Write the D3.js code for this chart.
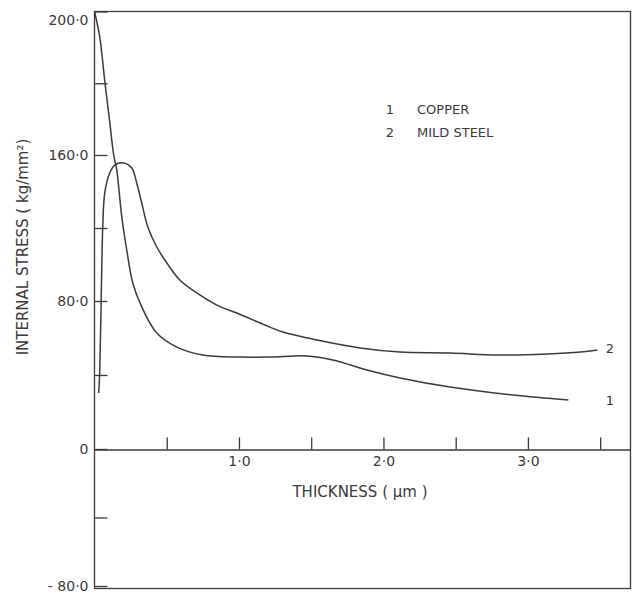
<!DOCTYPE html>
<html>
<head>
<meta charset="utf-8">
<script src="https://cdn.jsdelivr.net/npm/d3@7"></script>
<style>
  body { margin: 0; background: #fff; }
  svg { display: block; }
  text { font-family: "DejaVu Sans", sans-serif; fill: #3a3a3a; }
</style>
</head>
<body>
<svg id="chart" width="642" height="593"></svg>
<script>
// thickness (um) / internal stress (kg/mm2)
const copperX = [0, 0.036, 0.071, 0.105, 0.133, 0.154, 0.189, 0.223, 0.265, 0.327, 0.431, 0.57, 0.75, 1.006, 1.214, 1.47, 1.65, 1.886, 2.115, 2.461, 2.898, 3.28]
const copperY = [200, 193, 180.6, 169.3, 160, 151.8, 126, 108, 89.9, 76.8, 62.7, 55.1, 50.8, 49.7, 49.7, 50.3, 48.1, 42.7, 38.4, 33.5, 29.2, 26.5]

const steelX = [0.029, 0.036, 0.05, 0.057, 0.071, 0.105, 0.14, 0.202, 0.258, 0.292, 0.327, 0.369, 0.431, 0.501, 0.59, 0.708, 0.847, 0.985, 1.214, 1.304, 1.54, 1.838, 2.115, 2.461, 2.787, 3.134, 3.362, 3.48]
const steelY = [30.3, 41.1, 97, 120.5, 139.2, 150.1, 154.5, 155.6, 152.9, 144.7, 133.7, 120.5, 109.6, 100.8, 91.5, 84.4, 77.8, 73.5, 65.9, 63.2, 58.9, 54.6, 52.4, 51.9, 50.8, 51.4, 52.4, 53.5]

const yTicks = [-80, -40, 0, 40, 80, 120, 160, 180, 200]
const yLabels = { '-80': '- 80·0', '0': '0', '80': '80·0', '160': '160·0', '200': '200·0' }
const xTicks = [0.5, 1, 1.5, 2, 2.5, 3, 3.5]
const xLabels = { '1': '1·0', '2': '2·0', '3': '3·0' }

const legendItems = ['COPPER', 'MILD STEEL']

const ink = '#3a3a3a'
const frameL = 94.5, frameR = 630.5, frameT = 11.5, frameB = 588.5

const svg = d3.select('#chart')

// the printed axis is not evenly spaced at the top, so the scale is piecewise
const x = d3.scaleLinear().domain([0, 3.71]).range([frameL, frameR])
const y = d3.scaleLinear()
    .domain([-80, 0, 80, 160, 200])
    .range([586, 449, 301, 155, frameT])

// frame
svg.append('rect')
    .attr('x', frameL).attr('y', frameT)
    .attr('width', frameR - frameL).attr('height', frameB - frameT)
    .attr('fill', 'none')
    .attr('stroke', ink)
    .attr('stroke-width', 1.3)

// y axis, ticks pointing inward
const yAxis = svg.append('g')
    .attr('transform', `translate(${frameL},0)`)
    .call(d3.axisLeft(y)
        .tickValues(yTicks)
        .tickSizeInner(-13)
        .tickSizeOuter(0)
        .tickPadding(6)
        .tickFormat(d => yLabels[d] || ''))
yAxis.select('.domain').remove()
yAxis.selectAll('.tick line').attr('stroke', ink).attr('stroke-width', 1.3)
yAxis.selectAll('.tick text')
    .style('font-size', '14px')
    .attr('fill', ink)
    .attr('dy', d => d === 200 ? '0.9em' : '0.32em')

// x axis along zero
const xAxis = svg.append('g')
    .attr('transform', `translate(0,${Math.round(y(0)) + 0.5})`)
    .call(d3.axisBottom(x)
        .tickValues(xTicks)
        .tickSizeInner(-12)
        .tickSizeOuter(0)
        .tickPadding(7)
        .tickFormat(d => xLabels[d] || ''))
xAxis.select('.domain').attr('stroke', ink).attr('stroke-width', 1.3)
xAxis.selectAll('.tick line').attr('stroke', ink).attr('stroke-width', 1.3)
xAxis.selectAll('.tick text').style('font-size', '14px').attr('fill', ink)

// titles
svg.append('text')
    .attr('x', 360).attr('y', 497)
    .attr('text-anchor', 'middle')
    .style('font-size', '15px')
    .text('THICKNESS ( μm )')

svg.append('text')
    .attr('transform', 'translate(28,247) rotate(-90)')
    .attr('text-anchor', 'middle')
    .style('font-size', '15px')
    .text('INTERNAL STRESS ( kg/mm²)')

// curves
const line = d3.line()
    .x(d => x(d[0]))
    .y(d => y(d[1]))
    .curve(d3.curveCatmullRom.alpha(0.5))

const series = [
    { id: '1', pts: d3.zip(copperX, copperY) },
    { id: '2', pts: d3.zip(steelX, steelY) }
]

svg.selectAll('path.curve')
    .data(series)
    .join('path')
    .attr('class', 'curve')
    .attr('d', d => line(d.pts))
    .attr('fill', 'none')
    .attr('stroke', ink)
    .attr('stroke-width', 1.5)

// curve end numbers
svg.selectAll('text.endlabel')
    .data(series)
    .join('text')
    .attr('class', 'endlabel')
    .attr('x', 610)
    .attr('y', d => d.id === '1' ? 405 : 353)
    .attr('text-anchor', 'middle')
    .style('font-size', '13px')
    .text(d => d.id)

// legend
const legend = svg.append('g').attr('transform', 'translate(390,114)')
legend.selectAll('g')
    .data(legendItems)
    .join('g')
    .attr('transform', (d, i) => `translate(0,${i * 23})`)
    .each(function (d, i) {
        const g = d3.select(this)
        g.append('text').attr('x', 0).attr('text-anchor', 'middle')
            .style('font-size', '13px').text(i + 1)
        g.append('text').attr('x', 27)
            .style('font-size', '13px').text(d)
    })
</script>
</body>
</html>
